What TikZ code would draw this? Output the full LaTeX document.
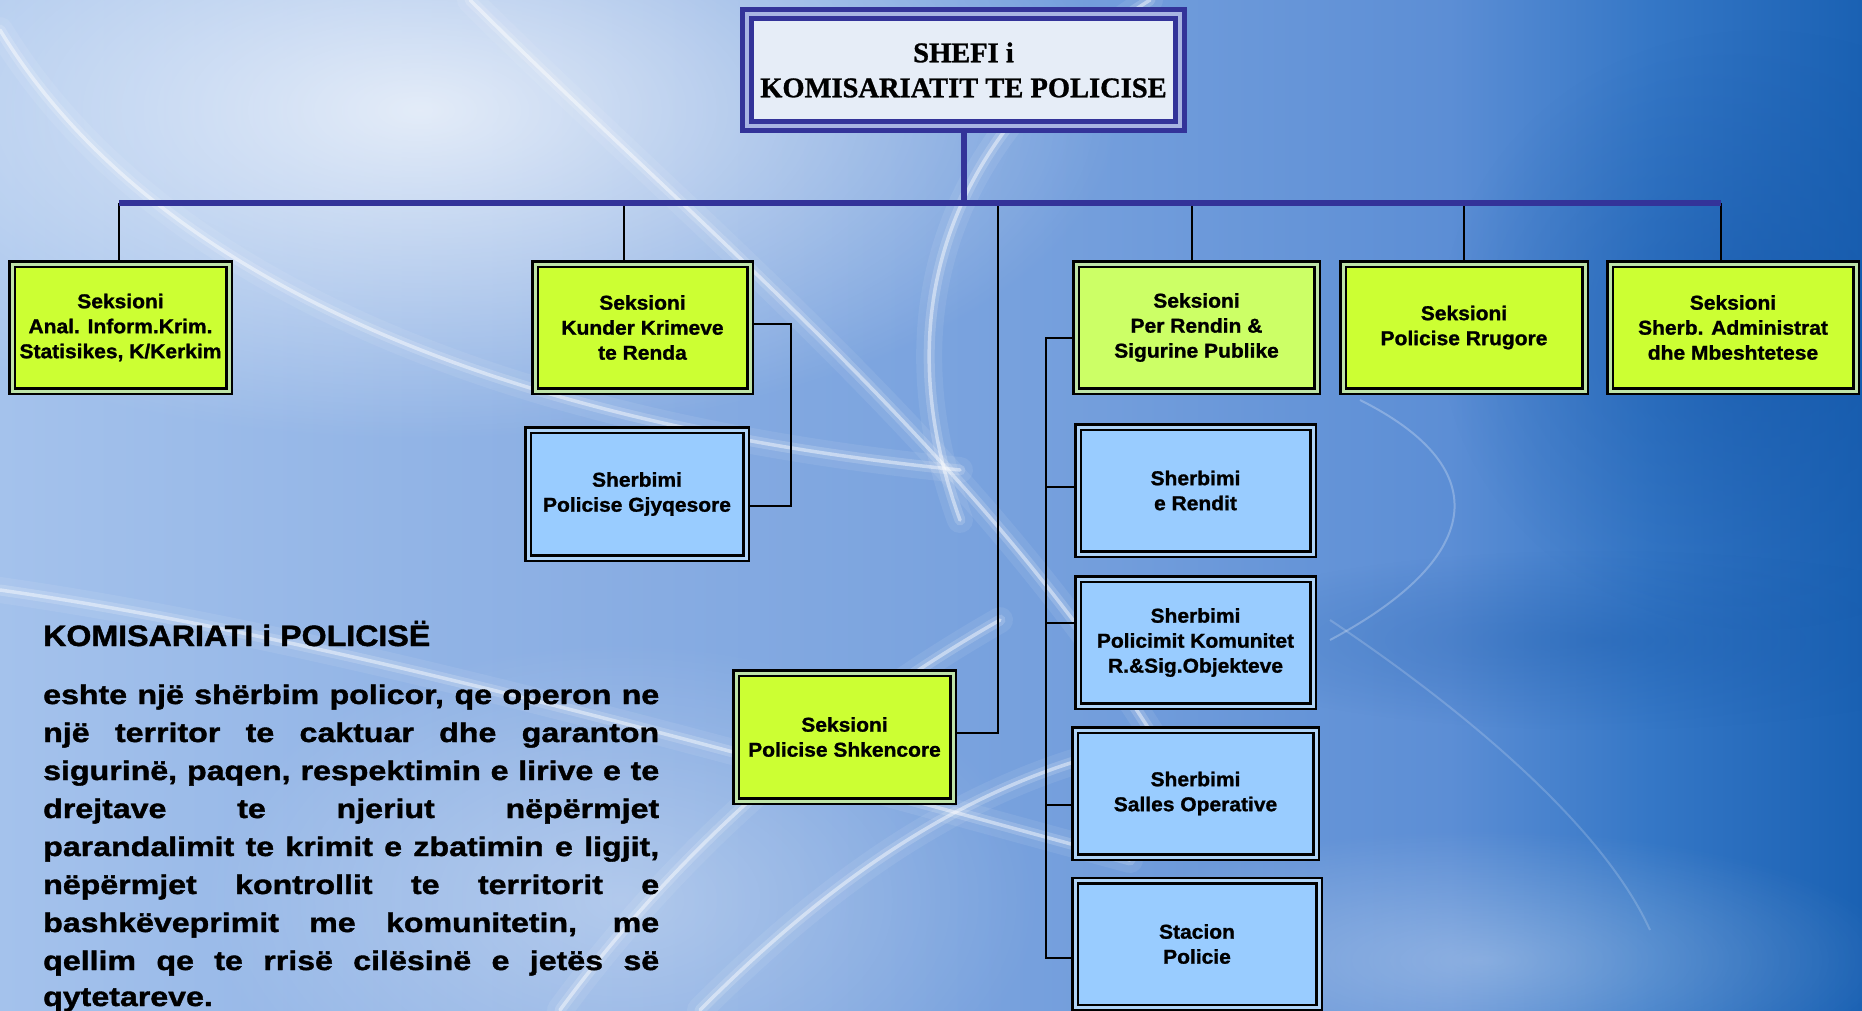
\documentclass[tikz,border=0pt]{standalone}
\usepackage{fontspec}
\setmainfont{Liberation Sans}
\newfontfamily\boxfont[FakeStretch=1.05,FakeBold=1.2]{Liberation Sans Bold}
\newfontfamily\parafont[FakeStretch=1.19,FakeBold=1.4]{Liberation Sans Bold}
\newfontfamily\headfont[FakeStretch=1.09,FakeBold=1.4]{Liberation Sans Bold}
\newfontfamily\chieffont[FakeBold=1]{Liberation Serif Bold}
\usetikzlibrary{fadings,calc}

\definecolor{busblue}{HTML}{333399}
\definecolor{chiefgap}{HTML}{A8B4E2}
\definecolor{chieffill}{HTML}{E6EDF7}
\definecolor{greenF}{HTML}{CCFF33}
\definecolor{greenL}{HTML}{CCFF66}
\definecolor{greengap}{HTML}{BEE3A8}
\definecolor{blueF}{HTML}{99CCFF}
\definecolor{bluegap}{HTML}{B0D4F8}
\definecolor{bg0}{HTML}{A4C2EC}
\definecolor{bg1}{HTML}{8AAEE3}
\definecolor{bg2}{HTML}{739EDC}
\definecolor{bg3}{HTML}{5C8ED5}
\definecolor{bg4}{HTML}{3577C6}
\definecolor{bg5}{HTML}{1A61B3}
\definecolor{deepblue}{HTML}{1456A8}

\pgfdeclarehorizontalshading{bgshade}{100bp}{color(0bp)=(bg0); color(25bp)=(bg0); color(41bp)=(bg1); color(54.5bp)=(bg2); color(63.9bp)=(bg3); color(69.3bp)=(bg4); color(75bp)=(bg5); color(100bp)=(bg5)}
\tikzfading[name=glowfade, inner color=transparent!0, outer color=transparent!100]

\pgfdeclarelayer{bglayer}
\pgfdeclarelayer{linelayer}
\pgfsetlayers{bglayer,linelayer,main}

\newcommand\glowcurve[1]{%
  \draw[white, line cap=round, line width=26pt, opacity=0.08] #1;
  \draw[white, line cap=round, line width=11pt, opacity=0.16] #1;
  \draw[white, line cap=round, line width=3.5pt, opacity=0.45] #1;
}

\tikzset{
  gbox/.style={draw=black, double=greengap, double distance=3pt, line width=2.5pt,
    fill=greenF, inner sep=0pt, align=center,
    font={\boxfont\fontsize{20}{25}\selectfont}},
  bbox/.style={gbox, double=bluegap, fill=blueF},
  chief/.style={draw=busblue, double=chiefgap, double distance=4.5pt, line width=4.5pt,
    fill=chieffill, inner sep=0pt, align=center,
    minimum width=433pt, minimum height=112pt,
    font={\chieffont\fontsize{28.5}{35}\selectfont}},
  conn/.style={draw=black, line width=2pt},
  busline/.style={draw=busblue, line width=6pt},
  paraline/.style={anchor=base west, inner sep=0pt,
    font={\parafont\fontsize{27}{38}\selectfont}},
}

\begin{document}
\begin{tikzpicture}[x=1pt,y=-1pt]
\useasboundingbox (0,0) rectangle (1862,1010);

% ---------------- background ----------------
\begin{pgfonlayer}{bglayer}
\shade[shading=bgshade] (0,0) rectangle (1862,1010);
\fill[white, path fading=glowfade, fill opacity=0.75] (420,110) ellipse (700 and 330);
\fill[white, path fading=glowfade, fill opacity=0.35] (620,900) ellipse (420 and 260);
\fill[white, path fading=glowfade, fill opacity=0.30] (1480,960) ellipse (420 and 130);
\fill[deepblue, path fading=glowfade, fill opacity=0.55] (1760,330) ellipse (320 and 300);
\fill[deepblue, path fading=glowfade, fill opacity=0.35] (1600,640) ellipse (420 and 90);
\glowcurve{(470,0) .. controls (700,230) and (1000,470) .. (1180,780)}
\glowcurve{(0,30) .. controls (140,260) and (460,420) .. (960,470)}
\glowcurve{(1150,0) .. controls (960,120) and (880,300) .. (960,520)}
\glowcurve{(0,590) .. controls (350,640) and (760,760) .. (1130,860)}
\glowcurve{(560,1010) .. controls (700,820) and (860,700) .. (1000,620)}
\glowcurve{(700,1010) .. controls (830,880) and (950,800) .. (1080,760)}
\draw[white, line width=2pt, opacity=0.25] (1360,400) .. controls (1500,470) and (1480,560) .. (1330,640);
\draw[white, line width=2pt, opacity=0.18] (1330,620) .. controls (1450,700) and (1600,820) .. (1650,930);
\end{pgfonlayer}

% ---------------- nodes ----------------
\node[chief] (C) at (963.5,70) {SHEFI i\\KOMISARIATIT TE POLICISE};

\node[gbox, minimum width=217pt, minimum height=127pt] (G1) at (120.5,327.5)
  {Seksioni\\Anal. Inform.Krim.\\Statisikes, K/Kerkim};
\node[gbox, minimum width=215pt, minimum height=127pt] (G2) at (642.5,327.5)
  {Seksioni\\Kunder Krimeve\\te Renda};
\node[gbox, fill=greenL, minimum width=241pt, minimum height=127pt] (G3) at (1196.5,327.5)
  {Seksioni\\Per Rendin \&\\Sigurine Publike};
\node[gbox, minimum width=242pt, minimum height=127pt] (G4) at (1464,327.5)
  {Seksioni\\Policise Rrugore};
\node[gbox, minimum width=246pt, minimum height=127pt] (G5) at (1733,327.5)
  {Seksioni\\Sherb. Administrat\\dhe Mbeshtetese};
\node[gbox, minimum width=217pt, minimum height=128pt] (G6) at (844.5,737)
  {Seksioni\\Policise Shkencore};

\node[bbox, minimum width=218pt, minimum height=128pt] (B1) at (637,494)
  {Sherbimi\\Policise Gjyqesore};
\node[bbox, minimum width=235pt, minimum height=127pt] (B2) at (1195.5,490.5)
  {Sherbimi\\e Rendit};
\node[bbox, minimum width=235pt, minimum height=127pt] (B3) at (1195.5,642.5)
  {Sherbimi\\Policimit Komunitet\\R.\&Sig.Objekteve};
\node[bbox, minimum width=241pt, minimum height=127pt] (B4) at (1195.5,793.5)
  {Sherbimi\\Salles Operative};
\node[bbox, minimum width=244pt, minimum height=127pt] (B5) at (1197,944)
  {Stacion\\Policie};

% ---------------- text ----------------
\node[anchor=base west, inner sep=0pt, font={\headfont\fontsize{29.5}{35}\selectfont}] (H) at (43,646) {KOMISARIATI i POLICISË};
\node[paraline] (P1) at (43,704) {\makebox[616pt][s]{eshte një shërbim policor, qe operon ne}};
\node[paraline] (P2) at (43,742) {\makebox[616pt][s]{një territor te caktuar dhe garanton}};
\node[paraline] (P3) at (43,780) {\makebox[616pt][s]{sigurinë, paqen, respektimin e lirive e te}};
\node[paraline] (P4) at (43,818) {\makebox[616pt][s]{drejtave te njeriut nëpërmjet}};
\node[paraline] (P5) at (43,856) {\makebox[616pt][s]{parandalimit te krimit e zbatimin e ligjit,}};
\node[paraline] (P6) at (43,894) {\makebox[616pt][s]{nëpërmjet kontrollit te territorit e}};
\node[paraline] (P7) at (43,932) {\makebox[616pt][s]{bashkëveprimit me komunitetin, me}};
\node[paraline] (P8) at (43,970) {\makebox[616pt][s]{qellim qe te rrisë cilësinë e jetës së}};
\node[paraline] (P9) at (43,1006) {qytetareve.};

% ---------------- connectors ----------------
\coordinate (d1) at (119,203);
\coordinate (d2) at (624,203);
\coordinate (d3) at (1192,203);
\coordinate (d4) at (1464,203);
\coordinate (d5) at (1721,203);
\coordinate (d6) at (998,203);
\coordinate (k6) at (998,733);
\coordinate (r1) at (791,324);
\coordinate (r2) at (791,506);
\coordinate (s0) at (1046,338);
\coordinate (s2) at (1046,487);
\coordinate (s3) at (1046,623);
\coordinate (s4) at (1046,805);
\coordinate (s5) at (1046,958);

\begin{pgfonlayer}{linelayer}
\draw[conn] (d1) -- (d1 |- G1.north);
\draw[conn] (d2) -- (d2 |- G2.north);
\draw[conn] (d3) -- (d3 |- G3.north);
\draw[conn] (d4) -- (d4 |- G4.north);
\draw[conn] (d5) -- (d5 |- G5.north);
\draw[conn] (d6) -- (k6) -- (k6 -| G6.east);
\draw[conn] (r1 -| G2.east) -- (r1) -- (r2) -- (r2 -| B1.east);
\draw[conn] (s0 -| G3.west) -- (s0) -- (s5) -- (s5 -| B5.west);
\draw[conn] (s2) -- (s2 -| B2.west);
\draw[conn] (s3) -- (s3 -| B3.west);
\draw[conn] (s4) -- (s4 -| B4.west);
\draw[busline] (C.south) -- (C.south |- d1);
\draw[busline] (d1) -- (d5);
\end{pgfonlayer}
\end{tikzpicture}
\end{document}
